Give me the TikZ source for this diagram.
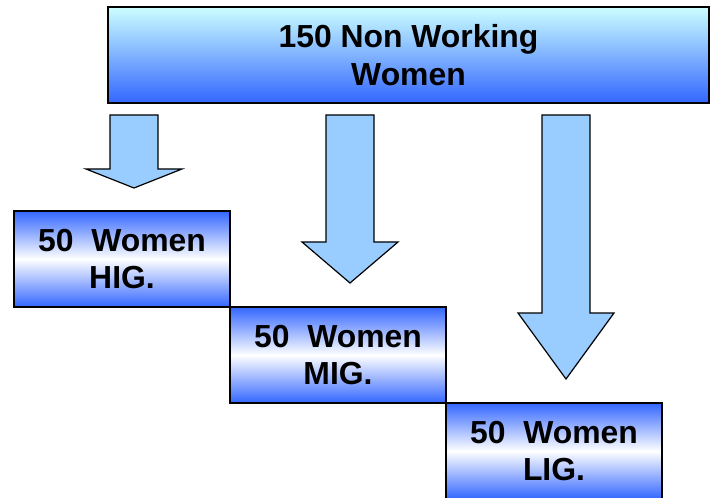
\documentclass[tikz,border=0pt]{standalone}
\usepackage{fontspec}
\setmainfont{Liberation Sans}
\usepackage{tikz}
\usetikzlibrary{positioning}

\definecolor{boxblue}{HTML}{3366FF}
\definecolor{boxcyan}{HTML}{CCFFFF}
\definecolor{arrowblue}{HTML}{99CCFF}

% block arrow: centre x, top y, head y, tip y
\newcommand{\blockarrow}[4]{%
  \draw[arrowshape] (#1-24,#2) -- (#1+24,#2) -- (#1+24,#3) -- (#1+48,#3)
    -- (#1,#4) -- (#1-48,#3) -- (#1-24,#3) -- cycle;}

\begin{document}
\begin{tikzpicture}[x=1bp,y=-1bp,
        font=\bfseries\fontsize{32}{38}\selectfont,
        topbox/.style={rectangle,draw,line width=1.8bp,align=center,
          minimum width=601bp,minimum height=96bp,inner sep=0pt,
          top color=boxcyan,bottom color=boxblue},
        groupbox/.style={rectangle,draw,line width=1.8bp,align=center,
          minimum width=216bp,minimum height=96bp,inner sep=0pt,
          top color=boxblue,bottom color=boxblue,middle color=white},
        arrowshape/.style={draw,line width=1.2bp,fill=arrowblue,line join=miter}]
		\useasboundingbox (0,0) rectangle (715,498);
		\node [topbox] (total) at (408.5,55) {150 Non Working\\Women};
		\blockarrow{134}{115}{169}{188}
		\blockarrow{350}{115}{242}{283}
		\blockarrow{566}{115}{313}{379}
		\node [groupbox] (hig) at (122,259) {50\ \ Women\\HIG.};
		\node [groupbox] (mig) at (338,355) {50\ \ Women\\MIG.};
		\node [groupbox] (lig) at (554,451) {50\ \ Women\\LIG.};
\end{tikzpicture}
\end{document}
